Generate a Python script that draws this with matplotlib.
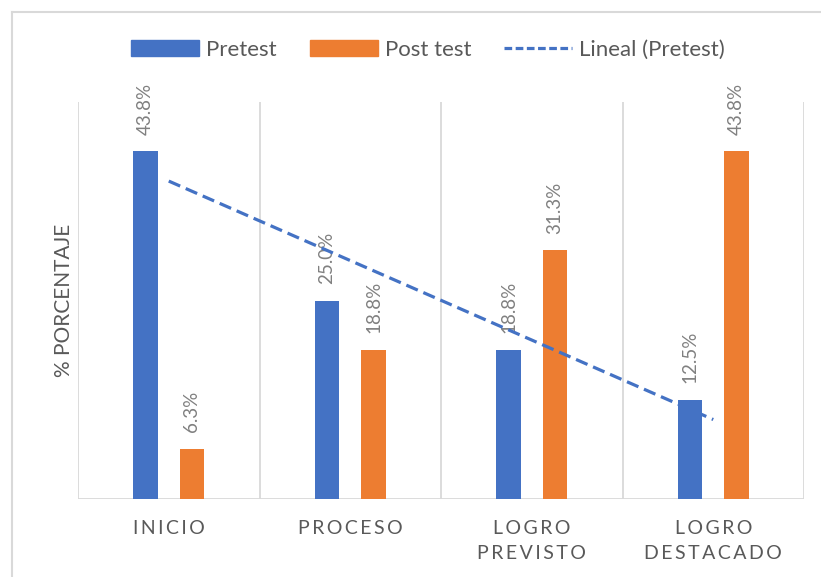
import numpy as np
import matplotlib
matplotlib.use("Agg")
import matplotlib.pyplot as plt
from matplotlib.patches import Rectangle
from matplotlib.lines import Line2D

SP = "\u2009"
categories = [SP.join("INICIO"), SP.join("PROCESO"),
              SP.join("LOGRO") + "\n" + SP.join("PREVISTO"),
              SP.join("LOGRO") + "\n" + SP.join("DESTACADO")]
pretest = [43.8, 25.0, 18.8, 12.5]
posttest = [6.3, 18.8, 31.3, 43.8]
series_names = ["Pretest", "Post test", "Lineal (Pretest)"]
ylabel = "% PORCENTAJE"

BLUE = "#4472C4"
ORANGE = "#ED7D31"
TXT = "#595959"
LBL = "#808080"
GRID = "#D9D9D9"

plt.rcParams['font.family'] = ['Lato', 'DejaVu Sans']

fig = plt.figure(figsize=(8.21, 5.77), dpi=100)
ax = fig.add_axes([78/821, 1-499/577, (804-78)/821, (499-102)/577])

x = np.arange(len(categories))
w = 0.136
off = 0.128
b1 = ax.bar(x - off, pretest, w, color=BLUE, zorder=2)
b2 = ax.bar(x + off, posttest, w, color=ORANGE, zorder=2)

for bars, vals in ((b1, pretest), (b2, posttest)):
    for r, v in zip(bars, vals):
        ax.annotate(f"{v:.1f}%", (r.get_x() + r.get_width()/2, v),
                    xytext=(0, 12), textcoords="offset points",
                    rotation=90, ha="center", va="bottom",
                    fontsize=13.5, color=LBL, zorder=3)

coef = np.polyfit(x, pretest, 1)
trend = np.polyval(coef, x)
ax.plot(x, trend, color=BLUE, lw=2.3, ls=(0, (3.9, 1.9)), zorder=4)

ax.set_xlim(-0.5, len(categories) - 0.5)
ax.set_ylim(0, 50)
for b in np.arange(-0.5, len(categories), 1.0):
    ax.axvline(b, color=GRID, lw=1.3, zorder=1)
for s in ax.spines.values():
    s.set_visible(False)
ax.axhline(0, color=GRID, lw=1.3, zorder=1)
ax.set_yticks([])
ax.set_xticks(x)
ax.set_xticklabels(categories, fontsize=14, color=TXT, linespacing=1.6, va="top")
ax.tick_params(axis="x", length=0, pad=15)
ax.set_ylabel(ylabel, fontsize=15, color=TXT, labelpad=3)

handles = [Rectangle((0, 0), 1, 1, color=BLUE),
           Rectangle((0, 0), 1, 1, color=ORANGE),
           Line2D([], [], color=BLUE, lw=2.3, ls=(0, (2.4, 1.1)))]
leg = fig.legend(handles, series_names, loc="center", ncol=3,
                 bbox_to_anchor=(428/821, 1-50/577), frameon=False,
                 fontsize=16, handlelength=3.05, handleheight=0.75,
                 handletextpad=0.32, columnspacing=1.5)
for t in leg.get_texts():
    t.set_color(TXT)

fig.add_artist(Line2D([11.5/821, 11.5/821], [0, 1-11.5/577], color=GRID, lw=1.5, transform=fig.transFigure))
fig.add_artist(Line2D([11.5/821, 1], [1-11.5/577, 1-11.5/577], color=GRID, lw=1.5, transform=fig.transFigure))

fig.savefig("out.png", dpi=100)
